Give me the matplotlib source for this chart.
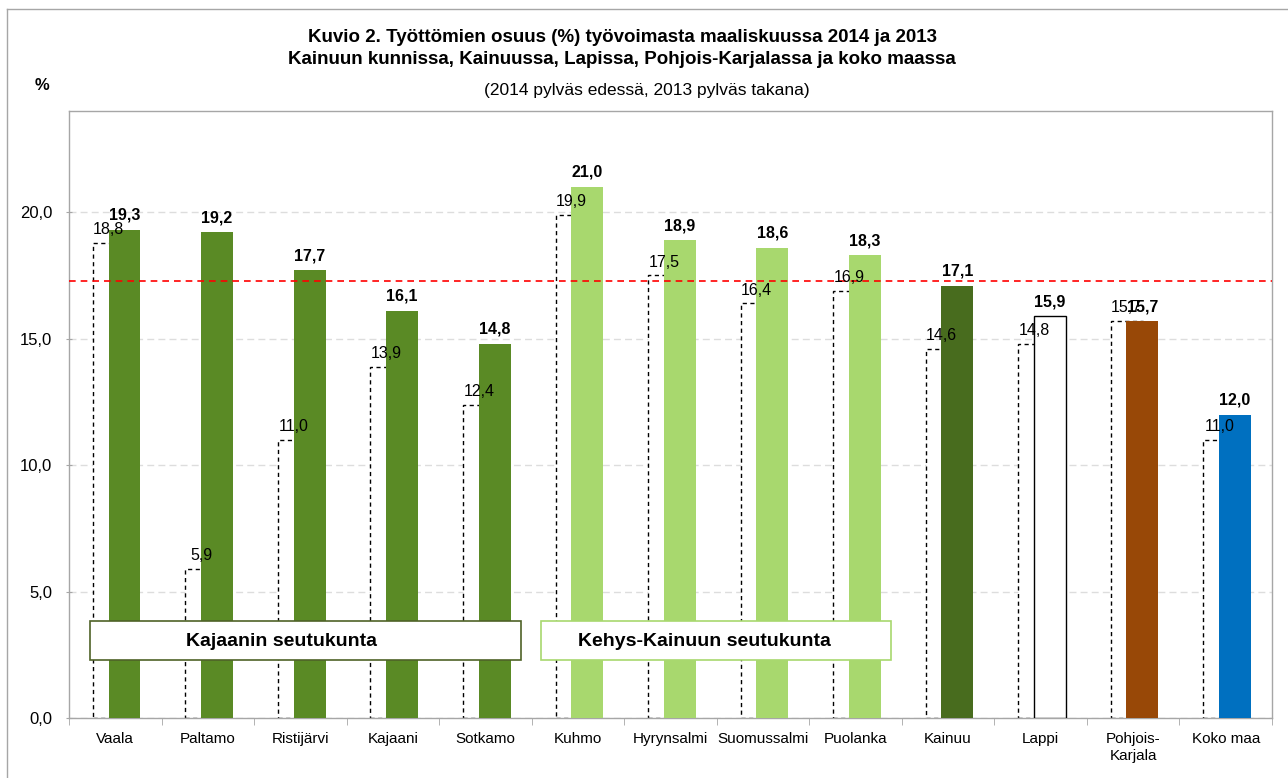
import matplotlib
matplotlib.use("Agg")
import matplotlib.pyplot as plt
from matplotlib.patches import Rectangle
from matplotlib.lines import Line2D

plt.rcParams['font.family'] = ['Liberation Sans', 'DejaVu Sans']

categories = ["Vaala", "Paltamo", "Ristijärvi", "Kajaani", "Sotkamo", "Kuhmo",
              "Hyrynsalmi", "Suomussalmi", "Puolanka", "Kainuu", "Lappi",
              "Pohjois-\nKarjala", "Koko maa"]
values_2014 = [19.3, 19.2, 17.7, 16.1, 14.8, 21.0, 18.9, 18.6, 18.3, 17.1, 15.9, 15.7, 12.0]
values_2013 = [18.8, 5.9, 11.0, 13.9, 12.4, 19.9, 17.5, 16.4, 16.9, 14.6, 14.8, 15.7, 11.0]
bar_colors_2014 = ["#5A8A25"] * 5 + ["#A8D86E"] * 4 + ["#486C1E", "#FFFFFF", "#984807", "#0070C0"]
reference_level = 17.3
yticks = [0, 5, 10, 15, 20]
group_labels = ["Kajaanin seutukunta", "Kehys-Kainuun seutukunta"]

fig = plt.figure(figsize=(12.88, 7.78), dpi=100)
ax = fig.add_axes([69 / 1288, 1 - 718.3 / 778, (1272 - 69) / 1288, (718.3 - 111) / 778])

w = 0.345
off13 = -0.07
off14 = 0.10
x = list(range(len(categories)))

# 2013 bars (behind, dashed outline)
for i, v in enumerate(values_2013):
    ax.bar(i + off13, v, width=w, color="white", edgecolor="black",
           linestyle=(0, (3, 2.5)), linewidth=1.0, zorder=2)
    ax.annotate(f"{v:.1f}".replace(".", ","), (i + off13, v), xytext=(0, 4),
                textcoords="offset points", ha="center", va="bottom",
                fontsize=11.5, zorder=5)

# 2014 bars (front)
for i, v in enumerate(values_2014):
    ec = "black" if bar_colors_2014[i] == "#FFFFFF" else bar_colors_2014[i]
    ax.bar(i + off14, v, width=w, color=bar_colors_2014[i], edgecolor=ec,
           linewidth=1.0 if ec == "black" else 0, zorder=3)
    ax.annotate(f"{v:.1f}".replace(".", ","), (i + off14, v), xytext=(0, 5),
                textcoords="offset points", ha="center", va="bottom",
                fontsize=11.5, fontweight="bold", zorder=6)

ax.axhline(reference_level, color="#FF0000", linestyle=(0, (4, 3)), linewidth=1.2, zorder=4)

ax.set_xlim(-0.5, len(categories) - 0.5)
ax.set_ylim(0, 24)
ax.set_yticks(yticks)
ax.set_yticklabels([f"{t:.1f}".replace(".", ",") for t in yticks], fontsize=12)
ax.yaxis.grid(True, color="#DDDDDD", linestyle=(0, (5, 3)), linewidth=1.0, zorder=0)
ax.set_axisbelow(True)

ax.set_xticks(x)
ax.set_xticklabels(categories, fontsize=11, linespacing=1.25)
ax.tick_params(axis="x", length=0, pad=10)
ax.set_xticks([i + 0.5 for i in range(-1, len(categories))], minor=True)
ax.tick_params(axis="x", which="minor", length=5, color="#A6A6A6", direction="out")
ax.tick_params(axis="y", length=4, color="#A6A6A6", direction="inout", pad=10)
for s in ax.spines.values():
    s.set_color("#A6A6A6")
    s.set_linewidth(1.0)

# group label boxes
box_specs = [(-0.269, 4.385, "#4F6228", 0.768), (4.598, 8.38, "#A8D86E", 5.004)]
for (x0, x1, ec, tx), lab in zip(box_specs, group_labels):
    ax.add_patch(Rectangle((x0, 2.29), x1 - x0, 1.54, facecolor="white",
                           edgecolor=ec, linewidth=1.2, zorder=7))
    ax.text(tx, 3.03, lab, ha="left", va="center", fontsize=14,
            fontweight="bold", zorder=8)

# titles
fig.text(622 / 1288, 1 - 38 / 778,
         "Kuvio 2. Työttömien osuus (%) työvoimasta maaliskuussa 2014 ja 2013",
         ha="center", va="center", fontsize=13.5, fontweight="bold")
fig.text(622 / 1288, 1 - 59 / 778,
         "Kainuun kunnissa, Kainuussa, Lapissa, Pohjois-Karjalassa ja koko maassa",
         ha="center", va="center", fontsize=13.5, fontweight="bold")
fig.text(647 / 1288, 1 - 90 / 778, "(2014 pylväs edessä, 2013 pylväs takana)",
         ha="center", va="center", fontsize=12.5)
fig.text(42 / 1288, 1 - 85 / 778, "%", ha="center", va="center", fontsize=12,
         fontweight="bold")

# outer chart frame (left and top visible)
fig.add_artist(Line2D([7 / 1288, 7 / 1288], [0, 1 - 9 / 778], transform=fig.transFigure,
                      color="#A6A6A6", linewidth=1.0))
fig.add_artist(Line2D([7 / 1288, 1], [1 - 9 / 778, 1 - 9 / 778], transform=fig.transFigure,
                      color="#A6A6A6", linewidth=1.0))

fig.savefig("out.png", dpi=100)
